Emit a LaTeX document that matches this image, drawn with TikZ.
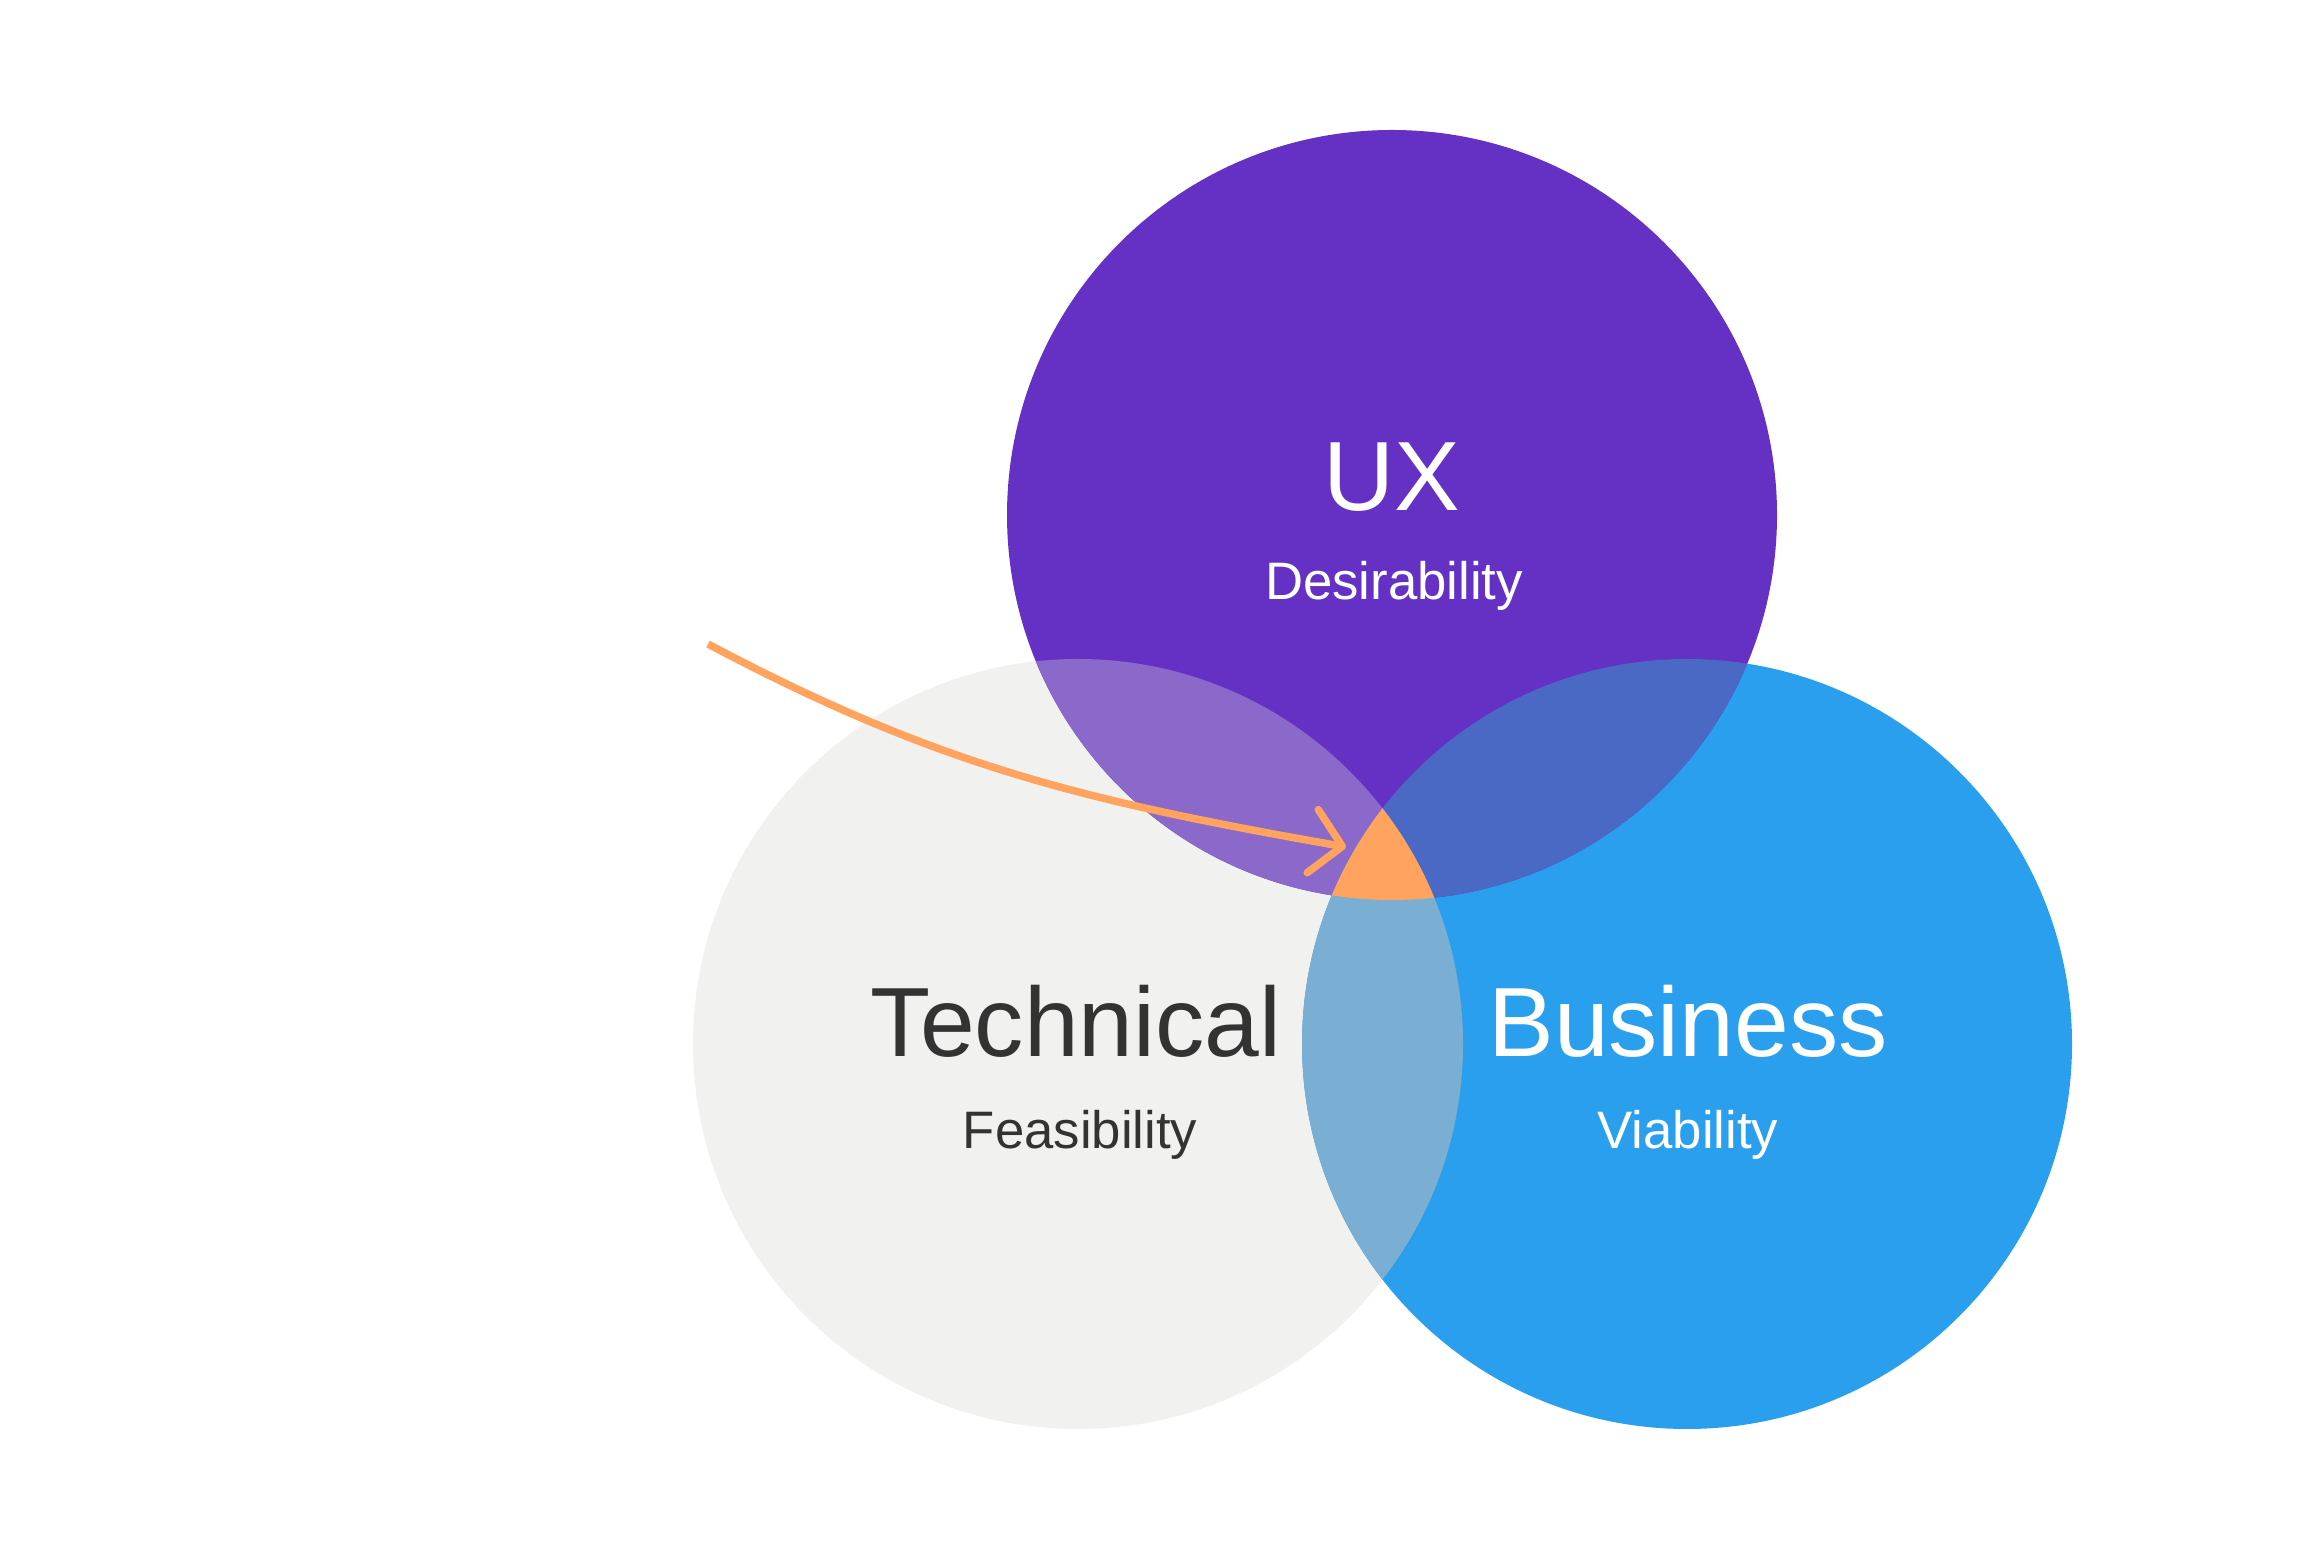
\documentclass[tikz,border=0pt]{standalone}
\usepackage{fontspec}
\setmainfont{Liberation Sans}
\usetikzlibrary{arrows.meta}

\definecolor{uxpurple}{HTML}{6431C4}
\definecolor{techgray}{HTML}{F1F1EF}
\definecolor{bizblue}{HTML}{2A9FEE}
\definecolor{uxtech}{HTML}{8A69CA}
\definecolor{uxbiz}{HTML}{4A69C4}
\definecolor{techbiz}{HTML}{7AAED3}
\definecolor{sweetspot}{HTML}{FFA35E}
\definecolor{darktext}{HTML}{333333}

\newcommand{\circrad}{385}

\tikzset{
  title/.style={font=\fontsize{28}{30}\selectfont, anchor=base},
  sub/.style={font=\fontsize{15}{17}\selectfont, anchor=base},
  pointer/.style={sweetspot, line width=0.75mm,
    -{Straight Barb[length=3mm, width=6.4mm, round]}}
}

\begin{document}
\begin{tikzpicture}[x=0.1mm, y=0.1mm]

    \useasboundingbox (0,0) rectangle (2322,1563);

    % Centres of the three circles
    \coordinate (ux) at (1392,1048);
    \coordinate (tech) at (1078,519);
    \coordinate (biz) at (1687,519);

    % Circles
    \fill[techgray] (tech) circle (\circrad);
    \fill[bizblue] (biz) circle (\circrad);
    \fill[uxpurple] (ux) circle (\circrad);

    % Overlap of UX and Technical
    \begin{scope}
        \clip (ux) circle (\circrad);
        \fill[uxtech] (tech) circle (\circrad);
    \end{scope}

    % Overlap of UX and Business
    \begin{scope}
        \clip (ux) circle (\circrad);
        \fill[uxbiz] (biz) circle (\circrad);
    \end{scope}

    % Overlap of Technical and Business
    \begin{scope}
        \clip (tech) circle (\circrad);
        \fill[techbiz] (biz) circle (\circrad);
    \end{scope}

    % Sweet spot in the middle
    \begin{scope}
        \clip (ux) circle (\circrad);
        \clip (tech) circle (\circrad);
        \fill[sweetspot] (biz) circle (\circrad);
    \end{scope}

    % Labels
    \node[title, white] (uxlabel) at (1392,1052) {UX};
    \node[sub, white] (uxsub) at (1394,963) {Desirability};
    \node[title, darktext] (techlabel) at (1076,506) {Technical};
    \node[sub, darktext] (techsub) at (1080,414) {Feasibility};
    \node[title, white] (bizlabel) at (1688,506) {Business};
    \node[sub, white] (bizsub) at (1688,414) {Viability};

    % Arrow pointing at the sweet spot
    \coordinate (start) at (708,919);
    \coordinate (tip) at (1346,716);
    \draw[pointer] (start) to[out=-28, in=170] (tip);

\end{tikzpicture}
\end{document}
